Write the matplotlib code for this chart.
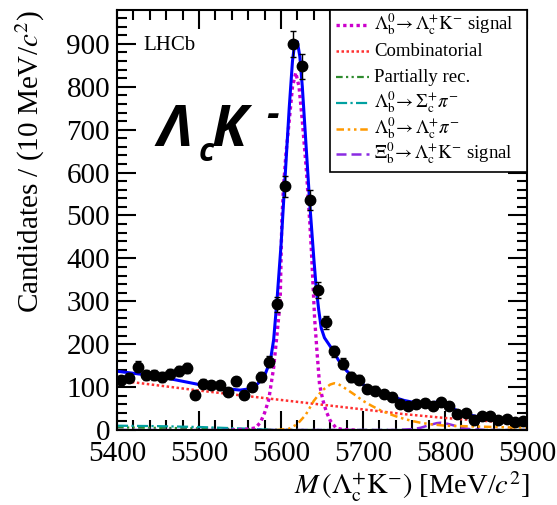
import numpy as np
import matplotlib
matplotlib.use("Agg")
import matplotlib.pyplot as plt
from matplotlib.ticker import MultipleLocator
from matplotlib.lines import Line2D
from matplotlib.patches import Rectangle

plt.rcParams['font.family'] = ['Liberation Serif', 'DejaVu Serif']
plt.rcParams['mathtext.fontset'] = 'stix'

# ---- data points (bin centres, counts) ----
mass = np.arange(5405, 5900, 10)
counts = [116, 122, 148, 128, 128, 124, 131, 137, 145, 82,
          108, 105, 104, 88, 114, 82, 101, 124, 159, 293,
          568, 899, 848, 537, 326, 251, 183, 155, 124, 117,
          96, 92, 83, 77, 61, 56, 60, 64, 55, 65,
          57, 38, 40, 23, 32, 33, 24, 26, 19, 20]

# ---- fit components ----
total_x = [5400, 5450, 5500, 5530, 5550, 5562, 5570, 5579, 5587, 5591, 5595, 5600, 5605,
           5610, 5614, 5617, 5620, 5623, 5626, 5630, 5635, 5640, 5643, 5646, 5649, 5653,
           5659, 5665, 5670, 5680, 5690, 5700, 5710, 5720, 5730, 5740, 5750, 5760,
           5770, 5780, 5790, 5795, 5800, 5810, 5820, 5830, 5840, 5850, 5860, 5870,
           5880, 5890, 5900]
total_y = [137, 125, 106, 97, 93, 96, 105, 122, 161, 210, 300, 430, 590,
           750, 860, 905, 905, 870, 800, 680, 530, 400, 330, 280, 238, 215,
           198, 180, 163, 138, 120, 106, 97, 89, 82, 75, 69, 65,
           63, 63, 65, 65, 61, 50, 40, 35, 31, 28, 25, 23,
           21, 19, 18]

sig_x = [5540, 5560, 5569, 5575, 5580, 5585, 5591, 5595, 5599, 5601, 5603, 5606, 5610,
         5614, 5618, 5622, 5626, 5631, 5635, 5637, 5641, 5644, 5647, 5651, 5655, 5660,
         5667, 5675, 5690]
sig_y = [0, 2, 5, 18, 40, 70, 145, 220, 300, 487, 565, 643, 720,
         800, 833, 800, 720, 604, 487, 420, 260, 180, 106, 70, 44, 22,
         5, 1, 0]

comb_x = [5400, 5450, 5500, 5550, 5600, 5650, 5700, 5750, 5800, 5850, 5900]
comb_y = [116, 104, 92, 81, 70, 59, 48, 37, 28, 21, 15]

part_x = [5400, 5450, 5500, 5550, 5600, 5650, 5900]
part_y = [6, 5, 4, 2, 0.5, 0, 0]

sigc_x = [5400, 5450, 5500, 5530, 5560, 5580, 5600, 5900]
sigc_y = [10, 9, 7, 5, 3, 1, 0, 0]

lcpi_x = [5595, 5610, 5620, 5630, 5640, 5650, 5660, 5665, 5670, 5680, 5690, 5700,
          5710, 5720, 5730, 5740, 5750, 5760, 5770, 5780, 5790, 5800, 5820, 5840,
          5860, 5880, 5900]
lcpi_y = [0, 3, 14, 35, 68, 92, 106, 109, 107, 95, 82, 68,
          57, 47, 39, 32, 26, 21, 17, 14, 12, 10, 9, 8,
          7, 6, 6]

xi_x = [5400, 5740, 5760, 5770, 5780, 5790, 5795, 5800, 5810, 5820, 5830, 5850, 5900]
xi_y = [0, 0, 2, 5, 11, 16, 17, 16, 11, 5, 2, 0, 0]

labels = [r'$\Lambda_{\rm b}^{0}\!\rightarrow\Lambda_{\rm c}^{+}{\rm K}^{-}$ signal',
          'Combinatorial',
          'Partially rec.',
          r'$\Lambda_{\rm b}^{0}\!\rightarrow\Sigma_{\rm c}^{+}\pi^{-}$',
          r'$\Lambda_{\rm b}^{0}\!\rightarrow\Lambda_{\rm c}^{+}\pi^{-}$',
          r'$\Xi_{\rm b}^{0}\!\rightarrow\Lambda_{\rm c}^{+}{\rm K}^{-}$ signal']

styles = [dict(color='#cc00cc', lw=2.4, ls=(0, (1, 1))),
          dict(color='#ff3030', lw=1.8, ls=(0, (1, 1))),
          dict(color='#2e8b2e', lw=1.6, ls=(0, (3, 1.5, 1, 1.5, 1, 1.5))),
          dict(color='#00a0a0', lw=1.6, ls=(0, (5, 1.5, 1, 1.5))),
          dict(color='#ff9900', lw=1.8, ls=(0, (3, 1.5, 1, 1.5, 1, 1.5))),
          dict(color='#8a2be2', lw=1.8, ls=(0, (4, 2)))]

W, H = 557, 505
fig = plt.figure(figsize=(W/100, H/100), dpi=100)
ax = fig.add_axes([117/W, 1-430/H, 410/W, 420/H])

ax.plot(part_x, part_y, **styles[2])
ax.plot(sigc_x, sigc_y, **styles[3])
ax.plot(xi_x, xi_y, **styles[5])
ax.plot(comb_x, comb_y, **styles[1])
ax.plot(lcpi_x, lcpi_y, **styles[4])
ax.plot(sig_x, sig_y, **styles[0])
ax.plot(total_x, total_y, color='#0000ff', lw=2.2)

ax.errorbar(mass, counts, yerr=np.sqrt(counts), fmt='o', color='black',
            ms=7.5, elinewidth=1, capsize=2, capthick=1, zorder=5)

ax.set_xlim(5400, 5900)
ax.set_ylim(0, 979)
ax.xaxis.set_major_locator(MultipleLocator(100))
ax.xaxis.set_minor_locator(MultipleLocator(20))
ax.yaxis.set_major_locator(MultipleLocator(100))
ax.yaxis.set_minor_locator(MultipleLocator(20))
ax.tick_params(which='both', direction='in', top=True, right=True, width=1.5)
ax.tick_params(which='major', length=14, labelsize=21)
ax.tick_params(axis='x', which='major', pad=8)
ax.tick_params(axis='y', which='major', pad=5)
ax.tick_params(which='minor', length=7)
for s in ax.spines.values():
    s.set_linewidth(1.5)

ax.set_ylabel(r'Candidates / (10 MeV/$c^2$)', fontsize=21, loc='top', labelpad=14)
ax.set_xlabel(r'$M\,(\Lambda_{\rm c}^{+}{\rm K}^{-})$ [MeV/$c^2$]', fontsize=20.5)
ax.xaxis.label.set_horizontalalignment('right')
ax.xaxis.set_label_coords(413/410, -40/420)

ax.text(0.065, 0.905, 'LHCb', transform=ax.transAxes, fontsize=15)

# ---- legend box drawn at fixed rows ----
fig.add_artist(Rectangle((330/W, 1-172/H), 197/W, 162/H, transform=fig.transFigure,
                         facecolor='white', edgecolor='black', lw=1.2, zorder=10))
rows = [25, 51, 77, 103, 129, 154]
for lab, st, ry in zip(labels, styles, rows):
    fig.add_artist(Line2D([336/W, 369/W], [1-ry/H, 1-ry/H], transform=fig.transFigure,
                          zorder=11, **st))
    fig.text(374/W, 1-(ry+5)/H, lab, fontsize=13.5, ha='left', va='baseline', zorder=11)

big = dict(family=['Open Sans', 'DejaVu Sans'], weight='bold', style='italic', color='black')
fig.text(157/W, 1-146/H, 'Λ', fontsize=42, ha='left', va='baseline', **big)
fig.text(199/W, 1-161/H, 'c', fontsize=23, ha='left', va='baseline', **big)
fig.text(212/W, 1-146/H, 'K', fontsize=41, ha='left', va='baseline', **big)
fig.text(266/W, 1-126/H, '-', fontsize=28, ha='left', va='baseline', **big)

fig.savefig('out.png', dpi=100)
